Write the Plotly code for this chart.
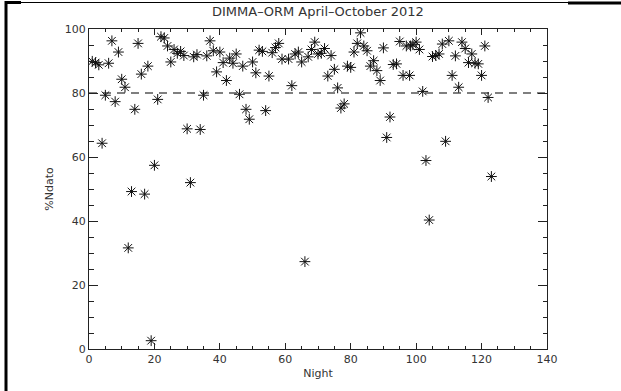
import plotly.graph_objects as go

night = [1, 2, 3, 4, 5, 6, 7, 8, 9, 10, 11, 12, 13, 14, 15, 16, 17, 18, 19, 20,
         21, 22, 23, 24, 25, 26, 27, 28, 29, 30, 31, 32, 33, 34, 35, 36, 37, 38, 39, 40,
         41, 42, 43, 44, 45, 46, 47, 48, 49, 50, 51, 52, 53, 54, 55, 56, 57, 58, 59, 61,
         62, 63, 64, 65, 66, 67, 68, 69, 70, 71, 72, 73, 74, 75, 76, 77, 78, 79, 80, 81,
         82, 83, 84, 85, 86, 87, 88, 89, 90, 91, 92, 93, 94, 95, 96, 97, 98, 98.3, 99, 100,
         101, 102, 103, 104, 105, 106, 107, 108, 109, 110, 111, 112, 113, 114, 115, 116, 117, 118, 119, 120,
         121, 122, 123]
ndato = [89.9, 89.5, 88.8, 64.3, 79.3, 89.3, 96.3, 77.3, 92.8, 84.3, 81.8, 31.6, 49.2, 74.9, 95.5, 85.9, 48.4, 88.4, 2.6, 57.4,
         78.0, 97.6, 97.2, 94.7, 89.7, 93.6, 92.4, 93.0, 91.7, 68.8, 52.0, 91.3, 92.0, 68.6, 79.3, 91.6, 96.3, 93.2, 86.6, 92.8,
         89.5, 83.9, 90.9, 89.3, 92.2, 79.6, 88.4, 74.9, 71.8, 89.7, 86.3, 93.4, 93.0, 74.5, 85.3, 92.6, 94.2, 95.5, 90.6, 90.6,
         82.3, 92.2, 92.8, 89.7, 27.3, 91.3, 93.6, 95.9, 92.2, 92.4, 93.9, 85.3, 91.7, 87.4, 81.6, 75.3, 76.6, 88.4, 88.0, 92.8,
         95.5, 98.8, 94.7, 93.2, 88.4, 90.1, 87.0, 83.9, 94.1, 66.1, 72.5, 88.9, 89.1, 96.1, 85.5, 94.7, 85.5, 94.7, 95.1, 95.9,
         93.6, 80.5, 58.9, 40.3, 91.4, 91.7, 92.2, 95.3, 64.9, 96.3, 85.5, 91.6, 81.8, 95.9, 93.9, 89.5, 92.2, 89.3, 89.1, 85.5,
         94.7, 78.6, 53.9]

threshold_x = [0, 140]
threshold_y = [80, 80]

FONT = "DejaVu Sans"
TXT = "#333333"
AX = "#222222"

fig = go.Figure()
fig.add_trace(go.Scatter(x=threshold_x, y=threshold_y, mode="lines",
                         line=dict(color="#555555", width=1.4, dash="8px,6px"),
                         hoverinfo="skip", showlegend=False))
fig.add_trace(go.Scatter(x=night, y=ndato, mode="markers",
                         marker=dict(symbol="asterisk-open", size=9, color="#111111",
                                     line=dict(color="#111111", width=1)),
                         showlegend=False))

L, R, T, B = 89, 74, 29, 42
W, H = 621 - L - R, 391 - T - B

def px(x):
    return (x - L) / W

def py(y):
    return (T + H - y) / H

shapes = [
    dict(type="line", xref="paper", yref="paper", x0=px(6), x1=px(6), y0=py(1), y1=py(391),
         line=dict(color="black", width=3)),
    dict(type="line", xref="paper", yref="paper", x0=px(5), x1=px(21), y0=py(2.5), y1=py(2.5),
         line=dict(color="black", width=3)),
    dict(type="line", xref="paper", yref="paper", x0=px(21), x1=px(568), y0=py(2.5), y1=py(2.5),
         line=dict(color="black", width=1.2)),
    dict(type="line", xref="paper", yref="paper", x0=px(568), x1=px(621), y0=py(3), y1=py(3),
         line=dict(color="black", width=3)),
]

fig.update_layout(
    width=621, height=391,
    margin=dict(l=L, r=R, t=T, b=B),
    paper_bgcolor="white", plot_bgcolor="white",
    font=dict(family=FONT, size=11, color=TXT),
    shapes=shapes,
    annotations=[
        dict(text="DIMMA–ORM April–October 2012", xref="paper", yref="paper",
             x=0.5, y=py(12), xanchor="center", yanchor="middle", showarrow=False,
             font=dict(family=FONT, size=13, color=TXT)),
    ],
)
fig.update_xaxes(range=[0, 140], tickmode="linear", tick0=0, dtick=20,
                 ticks="inside", ticklen=6, tickcolor=AX, tickwidth=1,
                 minor=dict(dtick=5, ticks="inside", ticklen=3, tickcolor=AX),
                 showline=True, linecolor=AX, linewidth=1, mirror="allticks",
                 showgrid=False, zeroline=False,
                 title=dict(text="Night", standoff=4, font=dict(size=11, color=TXT)))
fig.update_yaxes(range=[0, 100], tickmode="linear", tick0=0, dtick=20,
                 ticks="inside", ticklen=9, tickcolor=AX, tickwidth=1,
                 minor=dict(dtick=5, ticks="inside", ticklen=4.5, tickcolor=AX),
                 showline=True, linecolor=AX, linewidth=1, mirror="allticks",
                 showgrid=False, zeroline=False,
                 title=dict(text="%Ndato", standoff=8, font=dict(size=11, color=TXT)))

fig.write_html("out.html", config={"displayModeBar": False},
               post_script="document.body.style.margin='0';")
